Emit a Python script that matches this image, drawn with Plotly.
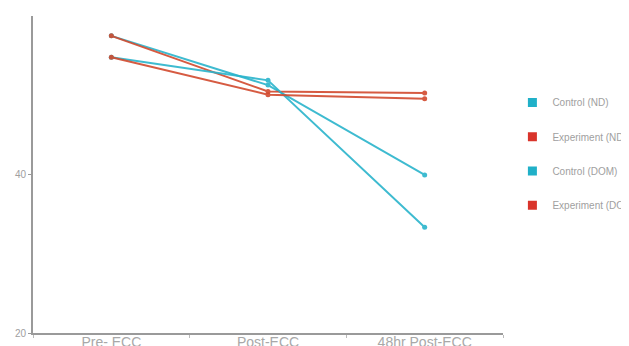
import plotly.graph_objects as go

categories = ["Pre- ECC", "Post-ECC", "48hr Post-ECC"]
series_names = ["Control (ND)", "Experiment (ND)", "Control (DOM)", "Experiment (DOM)"]
control_nd = [57.4, 51.2, 39.9]
experiment_nd = [57.4, 50.4, 50.2]
control_dom = [54.7, 51.8, 33.3]
experiment_dom = [54.7, 50.0, 49.5]
y_ticks = [20, 40]

series_values = [control_nd, experiment_nd, control_dom, experiment_dom]
colors = ["#2ab4cc", "#d24a2e", "#2ab4cc", "#d24a2e"]
legend_colors = ["#20b0c8", "#d9342b", "#20b0c8", "#d9342b"]

fig = go.Figure()
for name, vals, c in zip(series_names, series_values, colors):
    fig.add_trace(go.Scatter(
        x=categories, y=vals, mode="lines+markers", name=name,
        line=dict(color=c, width=2), marker=dict(color=c, size=5),
        showlegend=False, opacity=0.9,
    ))
for i, (name, c) in enumerate(zip(series_names, legend_colors)):
    fig.add_trace(go.Scatter(
        x=[None], y=[None], mode="markers", name=name,
        marker=dict(color=c, size=9, symbol="square"),
        legendgroup=f"g{i}", showlegend=True,
    ))

fig.update_layout(
    width=629, height=338,
    margin=dict(l=25, r=134, t=8, b=13, autoexpand=False),
    paper_bgcolor="white", plot_bgcolor="white",
    font=dict(family="Liberation Sans, Arial, sans-serif", color="#999999", size=9),
    legend=dict(x=1.02, y=0.773, xanchor="left", yanchor="top",
                font=dict(size=10, color="#a0a0a0"), tracegroupgap=15.3,
                itemwidth=30, bgcolor="rgba(0,0,0,0)"),
    xaxis=dict(type="category", range=[-0.5, 2.5], showline=True, linecolor="#9a9a9a",
               linewidth=2, ticks="outside", tickson="boundaries", ticklen=3,
               tickcolor="#bbbbbb", showgrid=False, zeroline=False,
               ticklabelstandoff=-5,
               tickfont=dict(size=14, color="#a8a8a8")),
    yaxis=dict(range=[20, 59.9], tickvals=y_ticks, showline=True, linecolor="#9a9a9a",
               linewidth=2, ticks="outside", ticklen=3, tickcolor="#999999",
               showgrid=False, zeroline=False, tickfont=dict(size=10, color="#a0a0a0")),
)

fig.write_html("out.html")
